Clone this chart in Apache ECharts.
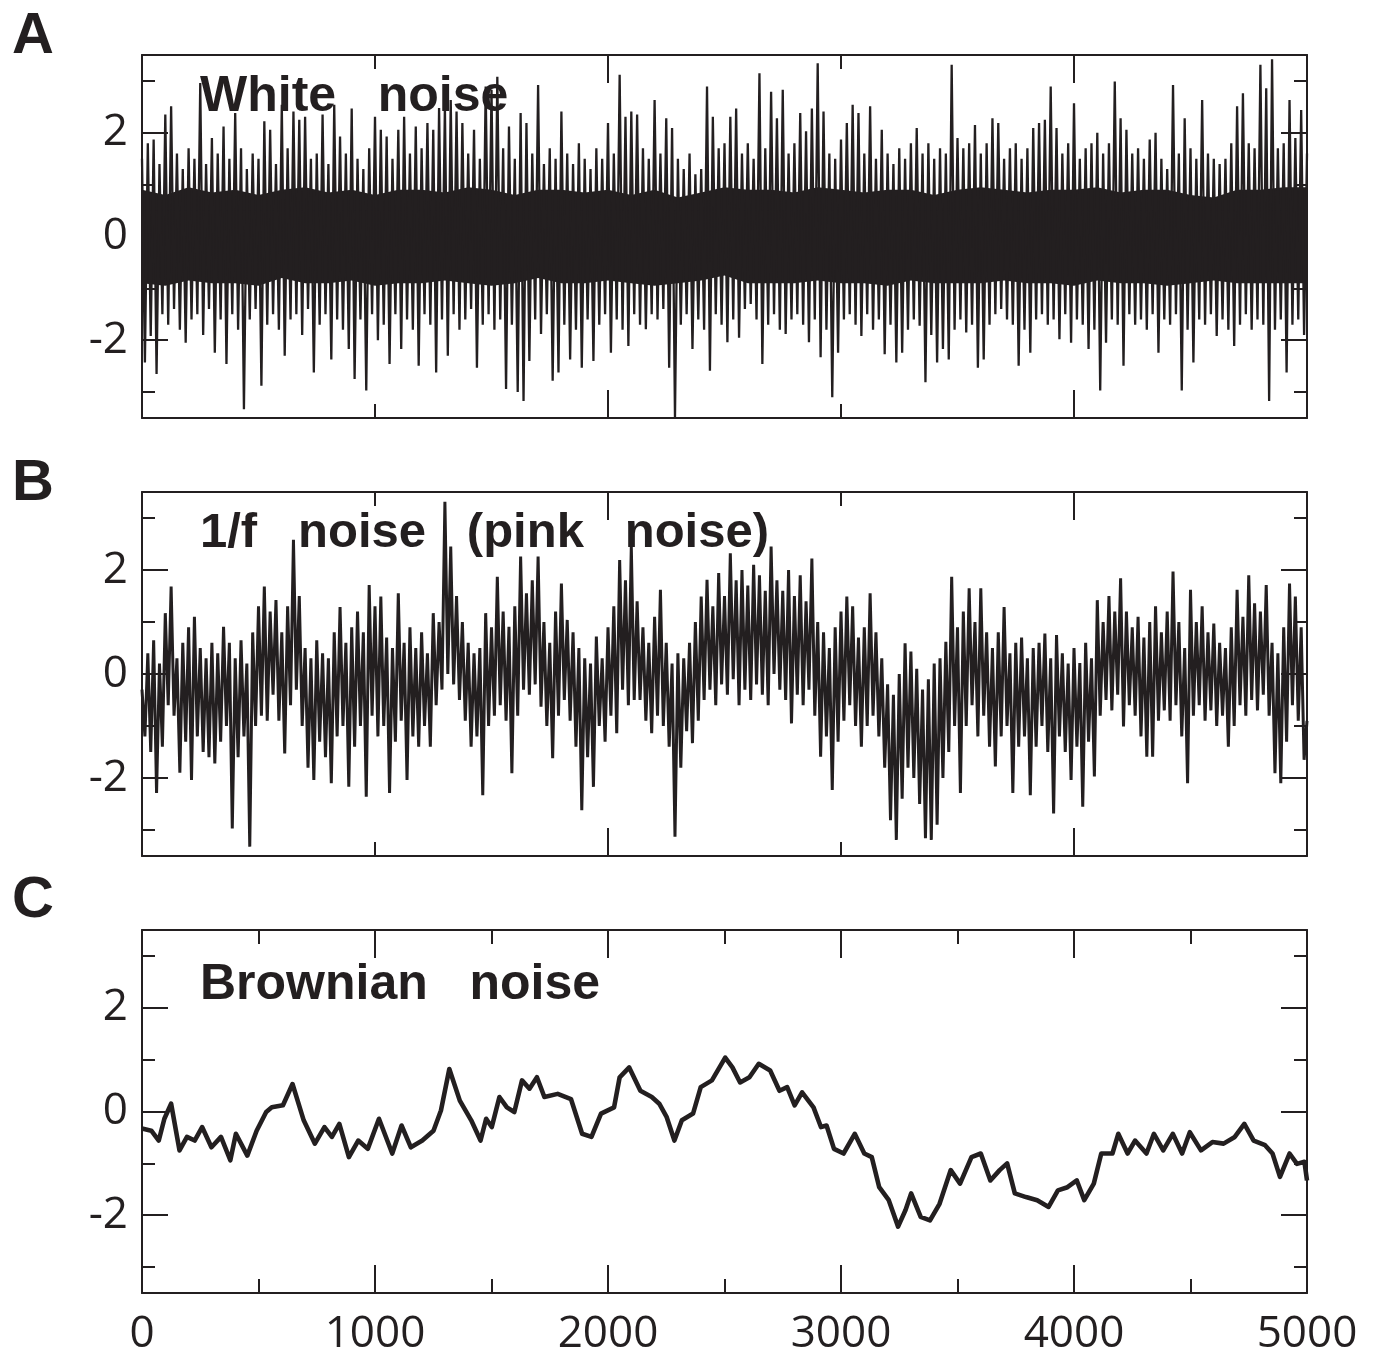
<!DOCTYPE html>
<html>
<head>
<meta charset="utf-8">
<script src="https://cdn.jsdelivr.net/npm/echarts@6/dist/echarts.min.js"></script>
<style>
  html, body { margin: 0; padding: 0; background: #ffffff; }
  #chart { width: 1373px; height: 1349px; }
</style>
</head>
<body>
<div id="chart"></div>
<script>
// ---------------- DATA ----------------
const panelLetters = ['A', 'B', 'C'];
const panelTitles = ['White   noise', '1/f   noise   (pink   noise)', 'Brownian   noise'];

const xTickLabels = [0, 1000, 2000, 3000, 4000, 5000];
const xTicksMajorAB = [2000, 4000];
const xTicksMinorAB = [1000, 3000];
const xTicksMajorC = [1000, 2000, 3000, 4000];
const xTicksMinorC = [500, 1500, 2500, 3500, 4500];
const yTickLabels = [-2, 0, 2];
const yTicksMajor = [-2, 0, 2];
const yTicksMinor = [-3, -1, 1, 3];

const binStep = 25;

// Panel A: white noise — local upper extremes (every binStep) and lower extremes (half a bin later)
const whiteHi = [1.5,1.8,1.87,1.4,2.35,2.51,1.6,1.3,1.7,1.5,
 2.96,1.4,1.9,1.6,2.12,1.5,2.38,1.7,1.3,1.6,
 1.5,2.22,2.06,1.4,2.54,1.7,2.41,2.25,2.31,1.5,
 1.6,2.35,1.4,2.54,1.93,1.6,2.47,1.5,1.3,1.7,
 2.31,2.06,1.93,1.5,2.06,2.31,1.6,2.12,1.7,2.19,
 2.06,2.48,2.51,2.63,2.41,2.19,1.6,2.06,1.5,2.89,
 2.83,3.08,1.7,2.12,1.5,2.38,2.19,1.6,2.92,1.4,
 1.7,1.5,2.41,1.6,1.4,1.8,1.5,1.3,1.7,1.5,
 2.19,1.6,3.12,2.31,2.41,2.35,1.7,1.5,2.63,1.6,
 2.28,2.09,1.5,1.3,1.6,1.2,1.3,2.89,2.31,1.7,
 1.8,2.31,2.47,1.6,1.8,1.5,3.15,1.7,2.79,2.28,
 2.83,1.6,1.8,2.38,2.03,2.47,3.34,2.41,1.6,1.5,
 1.87,2.19,2.54,2.38,1.6,2.51,1.5,2.06,1.6,1.4,
 1.7,1.5,1.8,2.09,1.6,1.8,1.5,1.7,1.6,3.31,
 1.9,1.7,1.8,2.15,1.6,1.8,2.28,2.19,1.5,1.7,
 1.8,1.5,1.7,2.09,2.19,2.25,2.89,2.09,1.6,1.8,
 2.57,1.5,1.7,1.8,2.0,1.6,1.8,2.99,2.28,2.06,
 1.6,1.7,1.5,1.87,2.0,1.5,1.3,2.92,1.6,2.28,
 1.7,1.5,2.63,1.6,1.5,1.4,1.5,1.8,2.51,2.76,
 1.8,1.7,3.31,2.86,3.42,1.7,1.8,2.63,1.9,2.44,
 1.6];
const whiteLo = [-2.43,-1.92,-2.65,-1.5,-1.7,-1.4,-1.8,-2.05,-1.6,-1.5,
 -1.9,-1.4,-2.24,-1.6,-2.46,-1.5,-1.8,-3.33,-1.6,-1.4,
 -2.88,-1.7,-1.5,-1.8,-2.3,-1.6,-1.5,-1.9,-1.4,-2.62,
 -1.7,-1.5,-2.37,-1.6,-1.8,-2.17,-2.75,-1.6,-2.97,-1.5,
 -2.0,-1.7,-2.46,-1.5,-2.17,-1.6,-1.8,-2.49,-1.5,-1.7,
 -2.62,-1.6,-2.3,-1.5,-1.8,-1.6,-1.4,-2.53,-1.7,-1.5,
 -1.8,-1.6,-2.94,-1.7,-3.0,-3.17,-2.4,-1.6,-1.88,-1.5,
 -2.78,-2.62,-1.7,-2.37,-1.8,-2.53,-1.6,-2.4,-1.7,-1.5,
 -2.24,-1.6,-1.8,-2.11,-1.5,-1.7,-1.79,-1.5,-1.6,-1.4,
 -2.53,-3.5,-1.7,-1.5,-2.17,-1.6,-1.8,-2.59,-1.5,-1.7,
 -2.04,-1.6,-1.95,-1.4,-1.3,-1.6,-2.46,-1.7,-1.5,-1.8,
 -1.88,-1.6,-1.5,-1.7,-2.04,-1.6,-2.33,-1.8,-3.1,-2.24,
 -1.6,-1.5,-1.7,-1.92,-1.5,-1.8,-1.6,-2.27,-1.7,-2.43,
 -2.24,-1.8,-1.6,-1.72,-2.81,-1.9,-2.43,-2.17,-2.37,-1.8,
 -1.6,-1.85,-1.7,-2.53,-2.37,-1.7,-1.5,-1.4,-1.6,-1.7,
 -2.49,-1.8,-2.24,-1.6,-1.5,-1.7,-1.6,-1.98,-1.5,-2.05,
 -1.6,-1.7,-2.17,-1.8,-2.97,-2.05,-1.6,-1.7,-2.49,-1.5,
 -1.7,-1.6,-1.8,-1.5,-2.24,-1.6,-1.7,-1.5,-2.97,-1.8,
 -2.43,-1.6,-1.7,-1.5,-1.92,-1.6,-1.8,-2.11,-1.7,-1.5,
 -1.8,-1.6,-1.7,-3.17,-1.8,-1.6,-2.62,-1.7,-1.6,-1.9];
// solid dark core of the white-noise trace: upper and lower edges every coreStep steps
const coreStep = 100;
const whiteCoreUp = [0.9,0.8,0.95,0.85,0.9,0.8,0.9,0.95,0.85,0.9,
 0.8,0.9,0.9,0.85,0.95,0.9,0.8,0.9,0.9,0.85,
 0.9,0.8,0.9,0.75,0.85,0.95,0.9,0.9,0.85,0.95,
 0.9,0.85,0.9,0.9,0.8,0.9,0.95,0.9,0.85,0.9,
 0.9,0.95,0.85,0.9,0.9,0.8,0.75,0.9,0.9,0.95,0.95];
const whiteCoreDown = [-0.9,-0.95,-0.85,-0.9,-0.9,-0.95,-0.8,-0.9,-0.9,-0.85,
 -0.95,-0.9,-0.9,-0.85,-0.9,-0.95,-0.9,-0.8,-0.9,-0.9,
 -0.85,-0.9,-0.95,-0.9,-0.85,-0.75,-0.9,-0.9,-0.9,-0.85,
 -0.9,-0.9,-0.95,-0.85,-0.9,-0.9,-0.9,-0.85,-0.9,-0.9,
 -0.95,-0.85,-0.9,-0.9,-0.95,-0.9,-0.85,-0.9,-0.9,-0.9,-0.9];

// Panel B: 1/f (pink) noise — local maxima / minima
const pinkHi = [-0.3,0.4,0.65,0.2,1.17,1.68,0.3,0.6,0.9,1.1,
 0.5,0.3,0.6,0.4,0.91,0.6,0.3,0.65,0.2,0.8,
 1.3,1.68,1.2,1.42,0.8,1.3,2.58,1.5,0.5,0.3,
 0.65,0.4,0.3,0.8,1.29,0.6,0.9,1.2,0.8,1.71,
 1.3,1.49,0.7,0.5,1.55,0.6,0.9,0.5,0.8,0.4,
 1.17,1.0,3.31,2.45,1.5,1.0,0.6,0.4,0.5,1.17,
 0.9,1.87,1.2,0.91,1.3,2.26,1.55,1.8,2.26,1.0,
 0.6,1.2,1.74,1.04,0.8,0.5,0.3,0.2,0.72,0.3,
 0.9,1.3,2.19,1.8,2.45,1.4,0.9,0.6,1.1,1.62,
 0.6,0.2,0.4,0.3,0.6,1.0,1.49,1.81,1.3,1.94,
 1.5,2.32,1.8,2.0,1.7,2.1,1.9,1.6,2.45,1.8,
 1.6,2.0,1.5,1.9,1.4,2.22,1.0,0.8,0.5,0.9,
 1.2,1.49,1.3,0.7,0.9,1.55,0.8,0.3,-0.2,-0.4,
 0.0,0.59,0.43,0.1,-0.3,-0.1,0.2,0.3,0.62,1.87,
 0.9,1.2,1.65,1.0,1.65,0.8,0.5,0.8,1.29,0.4,
 0.6,0.7,0.3,0.5,0.6,0.78,0.3,0.75,0.4,0.2,
 0.5,0.21,0.6,0.3,1.42,1.0,1.5,1.2,1.84,1.2,
 0.9,1.1,0.7,1.0,1.3,0.8,1.2,1.97,1.0,0.5,
 1.62,1.0,1.3,0.8,0.97,0.6,0.5,0.9,1.62,1.1,
 1.9,1.36,1.2,1.71,0.6,0.4,0.9,1.74,1.49,0.9,
 -0.9];
const pinkLo = [-1.2,-1.5,-2.29,-1.4,-0.6,-0.8,-1.9,-1.3,-2.04,-1.2,
 -1.5,-1.6,-1.72,-1.3,-1.0,-2.97,-1.6,-1.2,-3.32,-1.0,
 -0.8,-0.9,-0.4,-0.9,-1.53,-0.6,-0.3,-1.0,-1.8,-2.04,
 -1.3,-1.6,-2.1,-1.2,-1.0,-2.17,-1.4,-1.0,-2.36,-0.8,
 -1.2,-1.0,-2.29,-1.3,-0.9,-2.04,-1.2,-1.4,-1.0,-1.4,
 -0.6,-0.3,0.0,-0.2,-0.5,-0.9,-1.4,-1.2,-2.33,-1.0,
 -0.8,-0.6,-0.9,-1.91,-0.8,-0.3,-0.4,-0.2,-0.63,-1.0,
 -1.62,-0.8,-0.5,-0.9,-1.4,-2.62,-1.6,-2.17,-1.0,-1.3,
 -0.8,-1.14,-0.3,-0.6,-0.5,-0.5,-0.9,-1.14,-0.8,-1.0,
 -1.4,-3.13,-1.8,-1.1,-1.33,-0.9,-0.5,-0.3,-0.6,-0.2,
 -0.4,-0.1,-0.6,-0.3,-0.5,-0.2,-0.4,-0.6,0.0,-0.3,
 -0.5,-0.95,-0.4,-0.6,-0.3,-0.8,-1.59,-1.2,-2.23,-1.3,
 -0.9,-0.6,-1.0,-1.4,-1.0,-0.8,-1.2,-1.8,-2.81,-3.19,
 -2.4,-1.8,-2.0,-2.5,-3.16,-3.19,-2.9,-2.0,-1.5,-1.0,
 -2.29,-1.0,-0.6,-1.2,-0.8,-1.4,-1.78,-1.2,-1.0,-2.29,
 -1.4,-1.2,-2.33,-1.4,-1.0,-1.5,-2.68,-1.2,-1.5,-2.04,
 -1.4,-2.55,-1.3,-1.97,-0.8,-0.5,-0.7,-0.4,-1.01,-0.6,
 -0.8,-1.2,-1.59,-1.59,-0.9,-0.7,-0.9,-0.6,-1.2,-2.1,
 -0.8,-0.6,-0.9,-0.7,-1.0,-0.8,-1.4,-1.0,-0.6,-0.8,
 -0.5,-0.7,-0.4,-0.8,-1.91,-2.1,-1.3,-0.6,-0.9,-1.65];

// Panel C: Brownian noise
const brownX = [0,40,72,96,125,161,193,226,258,298,339,379,403,452,492,533,557,605,646,694,
 742,783,815,847,888,928,969,1017,1074,1114,1154,1203,1251,1283,1319,1364,1413,1453,1477,1501,
 1534,1566,1598,1631,1663,1695,1727,1784,1841,1889,1929,1970,2026,2050,2091,2139,2188,2220,2252,2285,
 2317,2365,2398,2446,2503,2534,2567,2607,2647,2696,2736,2769,2801,2833,2882,2914,2938,2970,3011,3059,
 3100,3132,3164,3205,3245,3277,3301,3342,3382,3423,3471,3511,3560,3600,3641,3681,3713,3746,3794,3842,
 3891,3931,3972,4012,4044,4085,4117,4165,4190,4230,4262,4311,4343,4383,4424,4464,4497,4545,4594,4642,
 4690,4731,4771,4820,4852,4884,4925,4957,4989,5000];
const brownY = [-0.33,-0.37,-0.56,-0.14,0.15,-0.75,-0.49,-0.56,-0.3,-0.69,-0.49,-0.94,-0.43,-0.85,-0.37,-0.01,0.08,0.12,0.53,-0.17,
 -0.62,-0.3,-0.49,-0.24,-0.88,-0.56,-0.72,-0.14,-0.81,-0.27,-0.69,-0.56,-0.37,0.02,0.82,0.21,-0.17,-0.56,-0.14,-0.3,
 0.28,0.08,-0.01,0.6,0.44,0.66,0.28,0.34,0.24,-0.43,-0.49,-0.04,0.08,0.66,0.85,0.4,0.28,0.15,-0.11,-0.56,
 -0.17,-0.04,0.47,0.6,1.04,0.85,0.56,0.66,0.92,0.79,0.40,0.47,0.12,0.37,0.08,-0.3,-0.27,-0.72,-0.81,-0.43,
 -0.81,-0.88,-1.46,-1.71,-2.22,-1.9,-1.58,-2.03,-2.1,-1.78,-1.13,-1.39,-0.88,-0.81,-1.33,-1.13,-1.0,-1.58,-1.65,-1.71,
 -1.84,-1.52,-1.46,-1.33,-1.71,-1.39,-0.81,-0.81,-0.43,-0.81,-0.56,-0.81,-0.43,-0.75,-0.43,-0.81,-0.40,-0.75,-0.59,-0.62,
 -0.49,-0.24,-0.56,-0.65,-0.81,-1.26,-0.81,-1.01,-0.97,-1.33];

// ---------------- BUILD ----------------
const INK = '#231f20';
const LABEL_FONT = '"Open Sans", "Noto Sans", sans-serif';
const TITLE_FONT = '"Liberation Sans", Arial, sans-serif';

function zigzag(hi, lo, step) {
  const out = [];
  const n = Math.max(hi.length, lo.length);
  for (let k = 0; k < n; k++) {
    if (k < hi.length) out.push([k * step, hi[k]]);
    if (k < lo.length) out.push([k * step + step / 2, lo[k]]);
  }
  return out;
}
function zip(xs, ys) { return xs.map((x, i) => [x, ys[i]]); }
function stepped(ys, step) { return ys.map((y, i) => [i * step, y]); }

const gridBase = { containLabel: false, outerBoundsMode: 'none' };
const grids = [
  Object.assign({ left: 142, top: 55, width: 1165, height: 363 }, gridBase),
  Object.assign({ left: 142, top: 492, width: 1165, height: 364 }, gridBase),
  Object.assign({ left: 142, top: 930, width: 1165, height: 363 }, gridBase)
];

const xAxes = [], yAxes = [];
const tickStyle = { color: INK, width: 2 };
const plain = v => String(v);
function addAxes(gi, xMaj, xMin, showXLabels) {
  const xb = { type: 'value', gridIndex: gi, min: 0, max: 5000, splitLine: { show: false } };
  const lbl = showXLabels ? {
    show: true, customValues: xTickLabels, showMinLabel: true, showMaxLabel: true, formatter: plain,
    color: INK, fontSize: 44, fontFamily: LABEL_FONT, margin: 19
  } : { show: false };
  xAxes.push(Object.assign({}, xb, { position: 'bottom', axisLine: { show: true, onZero: false, lineStyle: tickStyle },
    axisTick: { show: true, inside: true, length: 28, customValues: xMaj, lineStyle: tickStyle }, axisLabel: lbl }));
  xAxes.push(Object.assign({}, xb, { position: 'bottom', axisLine: { show: false, onZero: false },
    axisTick: { show: true, inside: true, length: 14, customValues: xMin, lineStyle: tickStyle }, axisLabel: { show: false } }));
  xAxes.push(Object.assign({}, xb, { position: 'top', axisLine: { show: true, onZero: false, lineStyle: tickStyle },
    axisTick: { show: true, inside: true, length: 28, customValues: xMaj, lineStyle: tickStyle }, axisLabel: { show: false } }));
  xAxes.push(Object.assign({}, xb, { position: 'top', axisLine: { show: false, onZero: false },
    axisTick: { show: true, inside: true, length: 14, customValues: xMin, lineStyle: tickStyle }, axisLabel: { show: false } }));

  const yb = { type: 'value', gridIndex: gi, min: -3.5, max: 3.5, splitLine: { show: false } };
  yAxes.push(Object.assign({}, yb, { position: 'left', axisLine: { show: true, onZero: false, lineStyle: tickStyle },
    axisTick: { show: true, inside: true, length: 26, customValues: yTicksMajor, lineStyle: tickStyle },
    axisLabel: { show: true, customValues: yTickLabels, formatter: plain, color: INK, fontSize: 44, fontFamily: LABEL_FONT, margin: 14 } }));
  yAxes.push(Object.assign({}, yb, { position: 'left', axisLine: { show: false, onZero: false },
    axisTick: { show: true, inside: true, length: 13, customValues: yTicksMinor, lineStyle: tickStyle }, axisLabel: { show: false } }));
  yAxes.push(Object.assign({}, yb, { position: 'right', axisLine: { show: true, onZero: false, lineStyle: tickStyle },
    axisTick: { show: true, inside: true, length: 26, customValues: yTicksMajor, lineStyle: tickStyle }, axisLabel: { show: false } }));
  yAxes.push(Object.assign({}, yb, { position: 'right', axisLine: { show: false, onZero: false },
    axisTick: { show: true, inside: true, length: 13, customValues: yTicksMinor, lineStyle: tickStyle }, axisLabel: { show: false } }));
}
addAxes(0, xTicksMajorAB, xTicksMinorAB, false);
addAxes(1, xTicksMajorAB, xTicksMinorAB, false);
addAxes(2, xTicksMajorC, xTicksMinorC, true);

function lineSeries(gi, data, width, extra) {
  return Object.assign({
    type: 'line', xAxisIndex: gi * 4, yAxisIndex: gi * 4, data: data,
    showSymbol: false, symbol: 'none', sampling: null, animation: false, silent: true, clip: true,
    lineStyle: { color: INK, width: width, join: 'miter', miterLimit: 20 }, z: 3
  }, extra || {});
}

const series = [
  // core fill: upper edge filled down past zero, lower edge filled up past zero (overlapping, no seam)
  lineSeries(0, stepped(whiteCoreUp, coreStep), 0, {
    areaStyle: { color: INK, opacity: 1, origin: -0.5 }, lineStyle: { width: 0, color: INK }, z: 2 }),
  lineSeries(0, stepped(whiteCoreDown, coreStep), 0, {
    areaStyle: { color: INK, opacity: 1, origin: 0.5 }, lineStyle: { width: 0, color: INK }, z: 2 }),
  lineSeries(0, zigzag(whiteHi, whiteLo, binStep), 2.3),
  lineSeries(1, zigzag(pinkHi, pinkLo, binStep), 3.0),
  lineSeries(2, zip(brownX, brownY), 4.6, { lineStyle: { color: INK, width: 4.6, join: 'round' } })
];

const titles = [];
const letterTops = [8, 455, 872];
const titleTops = [72, 509, 960];
const titleSizes = [50, 49, 50];
for (let i = 0; i < 3; i++) {
  titles.push({ text: panelLetters[i], left: 12, top: letterTops[i], padding: 0,
    textStyle: { fontSize: 58, fontWeight: 'bold', color: INK, fontFamily: TITLE_FONT } });
  titles.push({ text: panelTitles[i], left: 200, top: titleTops[i], padding: 0,
    textStyle: { fontSize: titleSizes[i], fontWeight: 'bold', color: INK, fontFamily: TITLE_FONT } });
}

const chart = echarts.init(document.getElementById('chart'), null, { renderer: 'canvas' });
chart.setOption({
  backgroundColor: '#ffffff',
  animation: false,
  title: titles,
  grid: grids,
  xAxis: xAxes,
  yAxis: yAxes,
  series: series
});
</script>
</body>
</html>
